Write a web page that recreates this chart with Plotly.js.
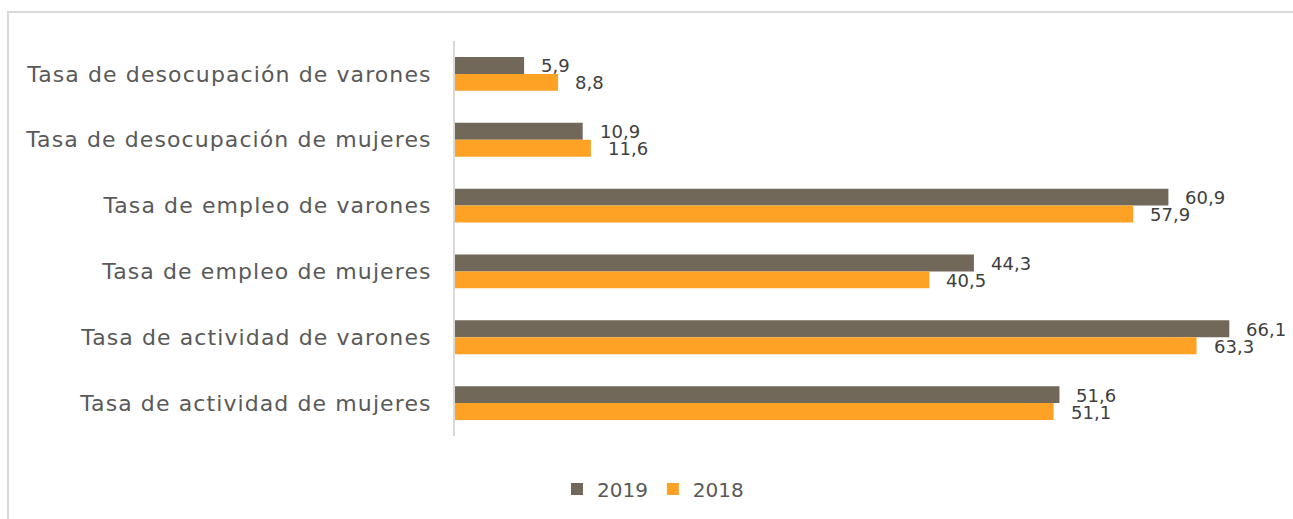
<!DOCTYPE html>
<html><head><meta charset="utf-8">
<script src="https://cdn.plot.ly/plotly-3.0.1.min.js"></script>
<style>
html,body{margin:0;padding:0;background:#fff;}
#wrap{position:relative;width:1293px;height:519px;overflow:hidden;}
#chart{position:absolute;left:0;top:0;width:1293px;height:519px;}
#frame{position:absolute;left:7px;top:11px;width:1400px;height:600px;border-left:2px solid #d9d9d9;border-top:2px solid #d9d9d9;pointer-events:none;}
#chart .ytick text{letter-spacing:1.1px;}
</style></head>
<body><div id="wrap"><div id="chart"></div><div id="frame"></div></div>
<script>
const categories = [
  "Tasa de desocupación de varones",
  "Tasa de desocupación de mujeres",
  "Tasa de empleo de varones",
  "Tasa de empleo de mujeres",
  "Tasa de actividad de varones",
  "Tasa de actividad de mujeres"
];
const values2019 = [5.9, 10.9, 60.9, 44.3, 66.1, 51.6];
const values2018 = [8.8, 11.6, 57.9, 40.5, 63.3, 51.1];
const seriesNames = ["2019", "2018"];

const FONT = "'DejaVu Sans', sans-serif";
const fmt = v => v.toFixed(1).replace('.', ',');

const traces = [
  {type:'bar', orientation:'h', name:seriesNames[0], y:categories, x:values2019,
   marker:{color:'#716859'}, hoverinfo:'skip'},
  {type:'bar', orientation:'h', name:seriesNames[1], y:categories, x:values2018,
   marker:{color:'#fda225'}, hoverinfo:'skip'}
];

const annotations = [];
categories.forEach((c,i)=>{
  annotations.push({x:values2019[i], y:c, text:fmt(values2019[i]), showarrow:false,
    xanchor:'left', yanchor:'middle', xshift:15, yshift:8, font:{family:FONT,size:18,color:'#404040'}});
  annotations.push({x:values2018[i], y:c, text:fmt(values2018[i]), showarrow:false,
    xanchor:'left', yanchor:'middle', xshift:15, yshift:-9, font:{family:FONT,size:18,color:'#404040'}});
});

const layout = {
  width:1293, height:519,
  margin:{l:455, r:18, t:41, b:83},
  paper_bgcolor:'rgba(0,0,0,0)', plot_bgcolor:'rgba(0,0,0,0)',
  barmode:'group', bargap:0.485, bargroupgap:0,
  font:{family:FONT, size:20, color:'#595959'},
  xaxis:{range:[0,70], showgrid:false, zeroline:false, showticklabels:false, showline:false, fixedrange:true},
  yaxis:{autorange:'reversed', type:'category', showgrid:false, zeroline:false,
    showline:true, linecolor:'#d9d9d9', linewidth:2, ticks:'', ticklabelstandoff:17,
    tickfont:{family:FONT, size:22, color:'#595959'}},
  showlegend:true,
  legend:{orientation:'h', xref:'container', yref:'container', x:0.505, y:0.058,
    xanchor:'center', yanchor:'middle', font:{family:FONT,size:20,color:'#595959'},
    itemwidth:30, traceorder:'normal'},
  annotations:annotations
};
Plotly.newPlot('chart', traces, layout, {displayModeBar:false, staticPlot:true});
</script></body></html>
